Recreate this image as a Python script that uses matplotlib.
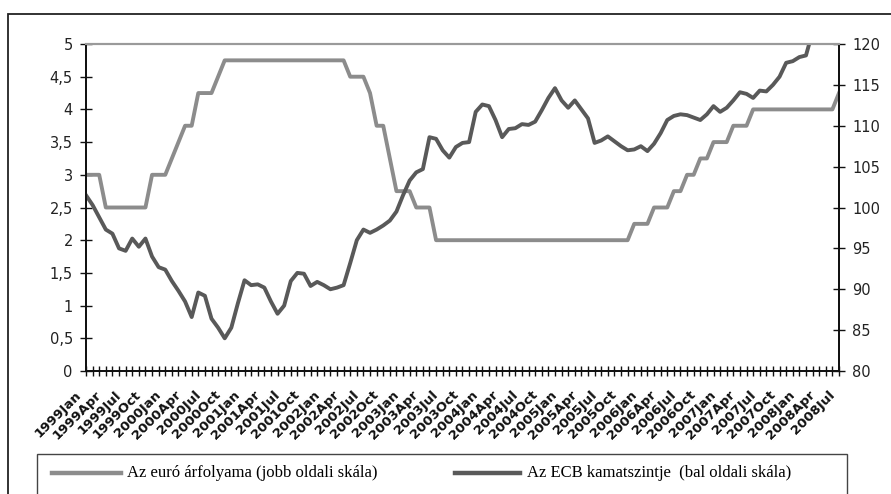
import numpy as np
import matplotlib
matplotlib.use('Agg')
import matplotlib.pyplot as plt
from matplotlib.lines import Line2D
from matplotlib.patches import Rectangle
from matplotlib.ticker import FuncFormatter
from matplotlib.transforms import ScaledTranslation

# honapok 1999Jan - 2008Jul
month_names = ['Jan', 'Feb', 'Mar', 'Apr', 'May', 'Jun', 'Jul', 'Aug', 'Sep', 'Oct', 'Nov', 'Dec']
months = [f'{y}{m}' for y in range(1999, 2009) for m in month_names][:115]
tick_labels = [lab if i % 3 == 0 else '' for i, lab in enumerate(months)]

# vilagos vonal (bal skala, lepcsos)
light = ([3.0] * 3 + [2.5] * 7 + [3.0] * 3 + [3.25, 3.5, 3.75, 3.75] + [4.25] * 3 + [4.5]
         + [4.75] * 19 + [4.5] * 3 + [4.25, 3.75, 3.75, 3.25] + [2.75] * 3 + [2.5] * 3
         + [2.0] * 30 + [2.25] * 3 + [2.5] * 3 + [2.75] * 2 + [3.0] * 2 + [3.25] * 2
         + [3.5] * 3 + [3.75] * 3 + [4.0] * 13 + [4.25])

# sotet vonal (jobb skala)
dark = [101.5, 100.3, 98.8, 97.3, 96.8, 95.0, 94.7, 96.2, 95.2, 96.2,
        94.0, 92.7, 92.4, 91.0, 89.8, 88.5, 86.6, 89.6, 89.2, 86.4,
        85.3, 84.0, 85.3, 88.3, 91.1, 90.5, 90.6, 90.2, 88.5, 87.0,
        88.0, 91.0, 92.0, 91.9, 90.4, 90.9, 90.5, 90.0, 90.2, 90.5,
        93.2, 96.0, 97.3, 96.9, 97.3, 97.8, 98.4, 99.5, 101.5, 103.3,
        104.3, 104.7, 108.6, 108.4, 107.0, 106.1, 107.4, 107.9, 108.0, 111.7,
        112.6, 112.4, 110.7, 108.6, 109.6, 109.7, 110.2, 110.1, 110.5, 111.9,
        113.4, 114.6, 113.1, 112.2, 113.1, 112.0, 110.9, 107.9, 108.2, 108.7,
        108.1, 107.5, 107.0, 107.1, 107.5, 106.9, 107.8, 109.1, 110.7, 111.2,
        111.4, 111.3, 111.0, 110.7, 111.4, 112.4, 111.7, 112.2, 113.1, 114.1,
        113.9, 113.4, 114.3, 114.2, 115.0, 116.0, 117.7, 117.9, 118.4, 118.6,
        121.5, 122.5, 123.0, 123.5, 123.2]

left_ticks = [0, 0.5, 1, 1.5, 2, 2.5, 3, 3.5, 4, 4.5, 5]
right_ticks = [80, 85, 90, 95, 100, 105, 110, 115, 120]

legend_labels = ['Az euró árfolyama (jobb oldali skála)',
                 'Az ECB kamatszintje  (bal oldali skála)']

c_light = '#8c8c8c'
c_dark = '#595959'

fig = plt.figure(figsize=(8.91, 4.94), dpi=100)
ax = fig.add_axes([86 / 891, 1 - 371 / 494, (839 - 86) / 891, (371 - 44) / 494])
ax2 = ax.twinx()

x = np.arange(len(months))
ax.plot(x, light, color=c_light, lw=2.8, solid_joinstyle='round')
ax2.plot(x, dark, color=c_dark, lw=2.8, solid_joinstyle='round')

ax.set_xlim(0, len(months) - 1)
ax.set_ylim(0, 5)
ax2.set_ylim(80, 120)

ax.set_xticks(x)
ax.set_xticklabels(tick_labels, rotation=45, ha='right', va='top',
                   rotation_mode='anchor', fontsize=9.5, fontweight='bold')
ax.set_yticks(left_ticks)
ax.yaxis.set_major_formatter(FuncFormatter(lambda v, p: f'{v:g}'.replace('.', ',')))
ax2.set_yticks(right_ticks)

ax.tick_params(axis='x', direction='inout', length=7, width=1, pad=9, colors='#111111')
ax.tick_params(axis='y', direction='inout', length=9, width=1, pad=5,
               labelsize=10.5, colors='#111111')
ax2.tick_params(axis='y', direction='inout', length=9, width=1, pad=5,
                labelsize=10.5, colors='#111111')
for t in ax.get_yticklabels() + ax2.get_yticklabels():
    t.set_color('#222222')

# feliratok balra tolasa (tick_params utan, kulonben visszaall)
shift = ScaledTranslation(-11 / 100, 0, fig.dpi_scale_trans)
for t in ax.get_xticklabels():
    t.set_transform(t.get_transform() + shift)

for a in (ax, ax2):
    a.spines['top'].set_color('#9a9a9a')
    a.spines['top'].set_linewidth(1.5)
    for s in ('left', 'right', 'bottom'):
        a.spines[s].set_linewidth(1.3)
        a.spines[s].set_color('#111111')

# kulso keret
fig.patches.append(Rectangle((8 / 891, -0.1), 1.0, 1.1 - 14 / 494, transform=fig.transFigure,
                             fill=False, edgecolor='#222222', lw=1.3))
# jelmagyarazat keret
fig.patches.append(Rectangle((37 / 891, -0.1), (847 - 37) / 891, 0.1 + 1 - 454 / 494,
                             transform=fig.transFigure, fill=False, edgecolor='#444444', lw=1.0))

ly = 1 - 473 / 494
for (x0, x1, tx), col, lab in zip([(52, 121, 127), (455, 520, 527)], [c_light, c_dark], legend_labels):
    fig.add_artist(Line2D([x0 / 891, x1 / 891], [ly, ly], transform=fig.transFigure,
                          color=col, lw=3.2))
    fig.text(tx / 891, ly, lab, fontsize=12, family='Liberation Serif', va='center', ha='left')

fig.savefig('out.png', dpi=100)
